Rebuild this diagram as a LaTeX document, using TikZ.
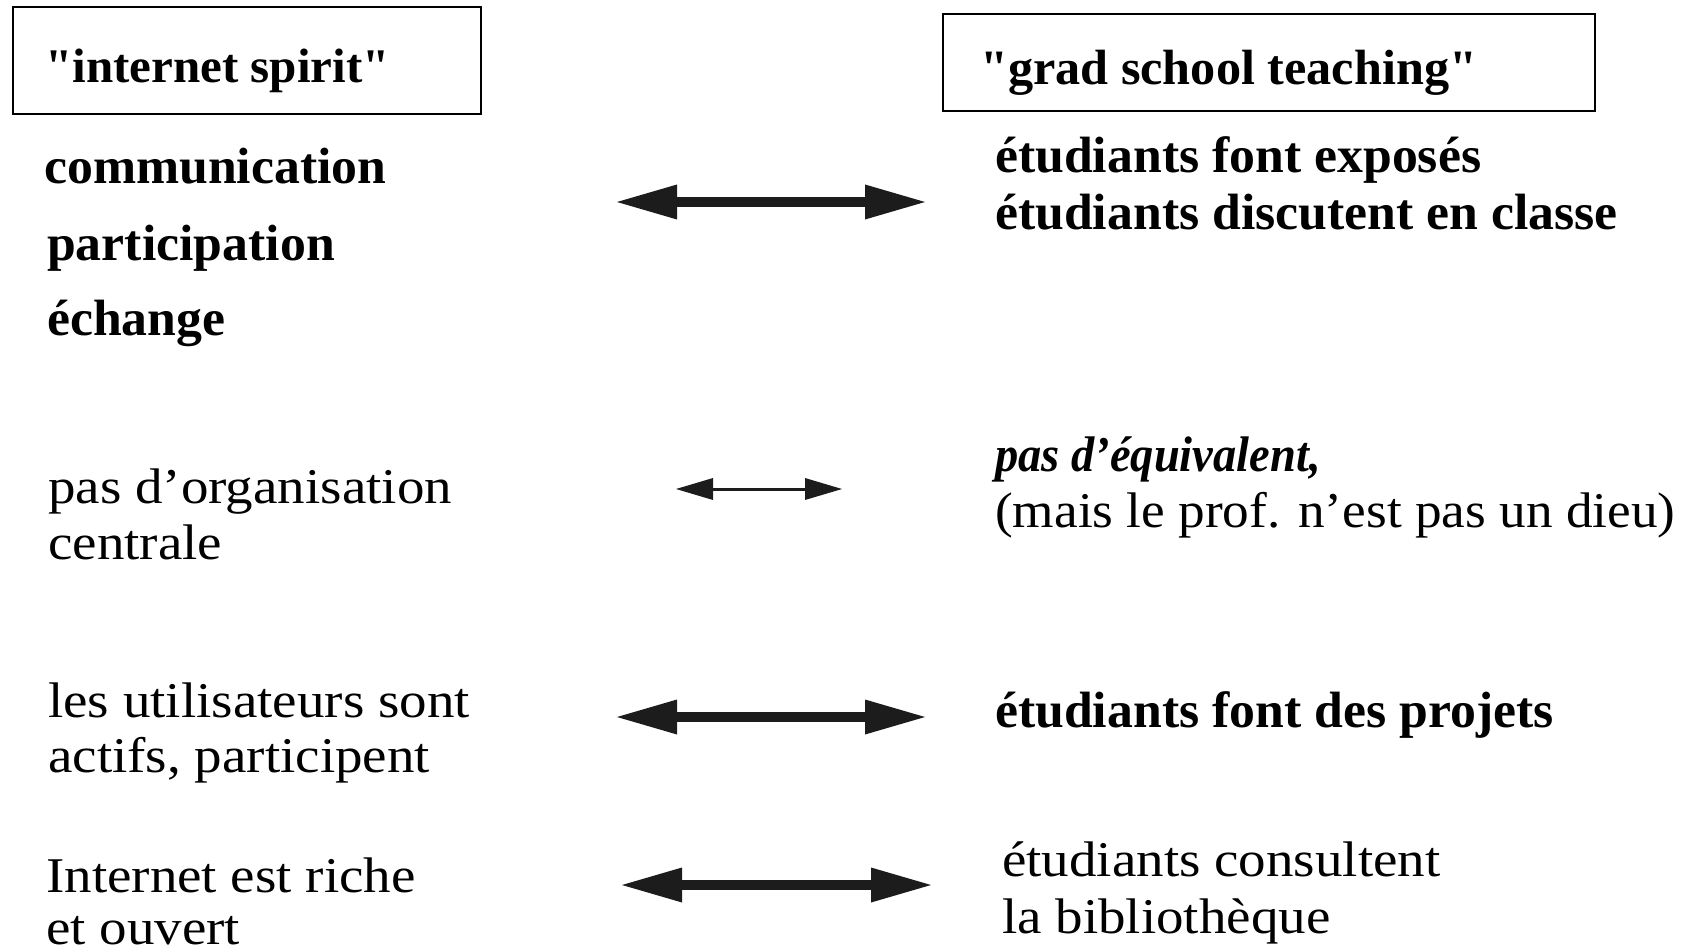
\documentclass[tikz,border=0pt]{standalone}
\usepackage{fontspec}
\setmainfont{Liberation Serif}
\newfontfamily\regfont[FakeStretch=1.1]{Liberation Serif}
\newfontfamily\narrowfont[FakeStretch=1.065]{Liberation Serif}
\newfontfamily\boldfont[FakeStretch=1.015]{Liberation Serif}
\newfontfamily\italfont[FakeStretch=0.93]{Liberation Serif}
\usetikzlibrary{arrows.meta}
\definecolor{ink}{HTML}{1C1C1C}
\tikzset{
  plain/.style={anchor=base west, inner sep=0pt, font=\regfont\fontsize{50}{56}\selectfont},
  plainnarrow/.style={anchor=base west, inner sep=0pt, font=\narrowfont\fontsize{50}{56}\selectfont},
  heavy/.style={anchor=base west, inner sep=0pt, font=\boldfont\bfseries\fontsize{51}{57}\selectfont},
  headtext/.style={anchor=base west, inner sep=0pt, font=\boldfont\bfseries\fontsize{49.5}{55}\selectfont},
  slant/.style={anchor=base west, inner sep=0pt, font=\italfont\bfseries\itshape\fontsize{50}{56}\selectfont},
  frame/.style={draw, line width=2pt, anchor=north west, inner sep=0pt},
  bigarrow/.style={draw=ink, line width=10pt,
    {Triangle[length=60pt 0 0, width=35pt 0 0, line width=0pt]}-{Triangle[length=60pt 0 0, width=35pt 0 0, line width=0pt]}},
  smallarrow/.style={draw=ink, line width=3pt,
    {Triangle[length=37pt 0 0, width=22pt 0 0, line width=0pt]}-{Triangle[length=37pt 0 0, width=22pt 0 0, line width=0pt]}}
}
\begin{document}
\begin{tikzpicture}[x=1pt, y=-1pt]
\useasboundingbox (0,0) rectangle (1688,952);

% header boxes
\node[frame, minimum width=468pt, minimum height=107pt] (boxL) at (12,6) {};
\node[frame, minimum width=652pt, minimum height=97pt] (boxR) at (942,13) {};
\node[headtext, font=\boldfont\bfseries\fontsize{48.3}{54}\selectfont] (hdrL) at (45,83) {"internet spirit"};
\node[headtext] (hdrR) at (980,85) {"grad school teaching"};

% left column
\node[heavy] (comm) at (44,184) {communication};
\node[heavy] (part) at (47,260) {participation};
\node[heavy] (ech)  at (47,335) {échange};

\node[plain] (org1) at (48,503) {pas d’organisation};
\node[plain] (org2) at (48,559) {centrale};

\node[plain] (usr1) at (48,717) {les utilisateurs sont};
\node[plain] (usr2) at (48,772) {actifs, participent};

\node[plain] (net1) at (46,892) {Internet est riche};
\node[plain, text depth=0pt] (net2) at (46,944) {et ouvert};

% right column
\node[heavy] (exp1) at (995,173) {étudiants font exposés};
\node[heavy] (exp2) at (995,229) {étudiants discutent en classe};

\node[slant] (eqv1) at (995,471) {pas d’équivalent,};
\node[plainnarrow] (eqv2) at (995,527) {(mais le prof. n’est pas un dieu)};

\node[heavy] (proj) at (995,727) {étudiants font des projets};

\node[plain] (bib1) at (1002,876) {étudiants consultent};
\node[plain] (bib2) at (1002,933) {la bibliothèque};

% arrow end points
\coordinate (a1l) at (617,202);
\coordinate (a1r) at (925,202);
\coordinate (a2l) at (676,489);
\coordinate (a2r) at (842,489);
\coordinate (a3l) at (617,717);
\coordinate (a3r) at (925,717);
\coordinate (a4l) at (622,885);
\coordinate (a4r) at (931,885);

\draw[bigarrow] (a1l) -- (a1r);
\draw[smallarrow] (a2l) -- (a2r);
\draw[bigarrow] (a3l) -- (a3r);
\draw[bigarrow] (a4l) -- (a4r);
\end{tikzpicture}
\end{document}
